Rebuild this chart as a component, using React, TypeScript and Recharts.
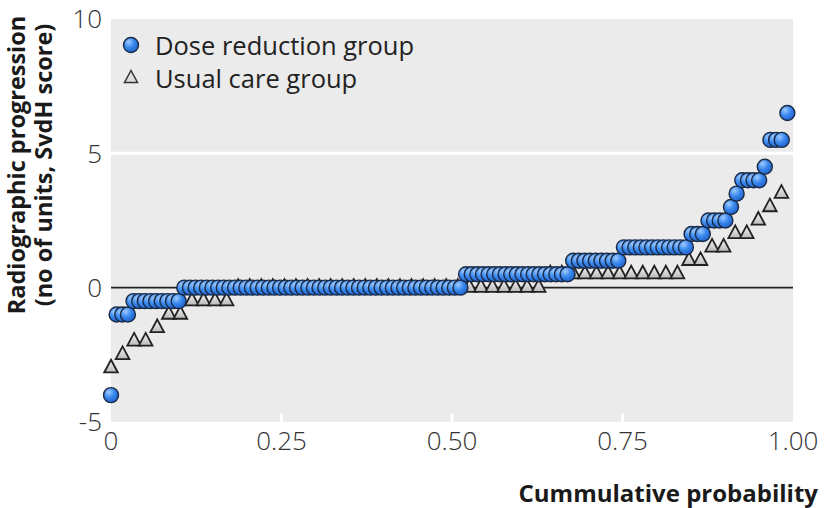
import React from 'react';
import {
  ScatterChart,
  Scatter,
  XAxis,
  YAxis,
  CartesianGrid,
  ReferenceLine,
} from 'recharts';

// SvdH score levels and how many patients sit on each step
const doseLevels = [-4, -1, -0.5, 0, 0.5, 1, 1.5, 2, 2.5, 3, 3.5, 4, 4.5, 5.5, 6.5];
const doseCounts = [1, 3, 9, 50, 19, 9, 12, 3, 4, 1, 1, 4, 1, 3, 1];
const usualLevels = [-3, -2.5, -2, -1.5, -1, -0.5, 0, 0.5, 1, 1.5, 2, 2.5, 3, 3.5];
const usualCounts = [1, 1, 2, 1, 2, 4, 27, 12, 2, 2, 2, 1, 1, 1];

const xTicks = [0, 0.25, 0.5, 0.75, 1];
const xTickLabels = ['0', '0.25', '0.50', '0.75', '1.00'];
const yTicks = [-5, 0, 5, 10];
const innerTicks = [0.25, 0.5, 0.75];

const FONT = "'Open Sans', 'Noto Sans', sans-serif";

interface Pt {
  p: number;
  y: number;
}

// empirical cumulative distribution from the step counts
function cumulative(levels: number[], counts: number[]): Pt[] {
  const n = counts.reduce((a, b) => a + b, 0);
  const out: Pt[] = [];
  let rank = 0;
  levels.forEach((v, k) => {
    for (let c = 0; c < counts[k]; c++) {
      out.push({ p: rank / n, y: v });
      rank++;
    }
  });
  return out;
}

const doseData = cumulative(doseLevels, doseCounts);
const usualData = cumulative(usualLevels, usualCounts);

const Ball = ({ cx, cy }: any) => {
  if (cx == null || cy == null) return null;
  return <circle cx={cx} cy={cy} r={7.5} fill="url(#blueBall)" stroke="#1a2a44" strokeWidth={1.4} />;
};

const Tri = ({ cx, cy }: any) => {
  if (cx == null || cy == null) return null;
  return (
    <polygon
      points={`${cx},${cy - 8.5} ${cx - 6.8},${cy + 4.2} ${cx + 6.8},${cy + 4.2}`}
      fill="url(#grayTri)"
      stroke="#222"
      strokeWidth={1.8}
    />
  );
};

// legend sits inside the panel, top-left
const LegendBox = () => (
  <svg
    width={340}
    height={80}
    style={{ position: 'absolute', left: 110, top: 19, display: 'block' }}
  >
    <defs>
      <radialGradient id="blueBall2" cx="35%" cy="30%" r="75%">
        <stop offset="0%" stopColor="#9fcaff" />
        <stop offset="50%" stopColor="#3888ee" />
        <stop offset="100%" stopColor="#1f5fc8" />
      </radialGradient>
    </defs>
    <circle cx={21} cy={26} r={7.5} fill="url(#blueBall2)" stroke="#1a2a44" strokeWidth={1.4} />
    <text x={45} y={26} dominantBaseline="central" fontFamily={FONT} fontSize={25.5} fill="#222">
      Dose reduction group
    </text>
    <polygon points="21,51.5 14.5,63.5 27.5,63.5" fill="#ddd" stroke="#333" strokeWidth={1.5} />
    <text x={45} y={59} dominantBaseline="central" fontFamily={FONT} fontSize={25.5} fill="#222">
      Usual care group
    </text>
  </svg>
);

const YTitle = ({ viewBox }: any) => {
  const cy = viewBox.y + 146;
  const common = {
    fontFamily: FONT,
    fontWeight: 700,
    fontSize: 23.5,
    fill: '#1a1a1a',
    textAnchor: 'middle' as const,
    dominantBaseline: 'central' as const,
  };
  return (
    <g>
      <text x={16} y={cy} transform={`rotate(-90 16 ${cy})`} {...common}>
        Radiographic progression
      </text>
      <text x={43} y={cy} transform={`rotate(-90 43 ${cy})`} {...common}>
        (no of units, SvdH score)
      </text>
    </g>
  );
};

const XTitle = ({ viewBox }: any) => (
  <text
    x={viewBox.x + viewBox.width + 25}
    y={viewBox.y + 70}
    textAnchor="end"
    dominantBaseline="central"
    fontFamily={FONT}
    fontWeight={700}
    fontSize={24}
    fill="#1a1a1a"
  >
    Cummulative probability
  </text>
);

export default function App() {
  return (
    <div style={{ position: 'absolute', left: 0, top: 0, width: 824, height: 508, background: '#fff' }}>
      <ScatterChart width={824} height={508} margin={{ top: 19, right: 31, bottom: 0, left: 0 }}>
        <defs>
          <radialGradient id="blueBall" cx="35%" cy="30%" r="75%">
            <stop offset="0%" stopColor="#9fcaff" />
            <stop offset="50%" stopColor="#3888ee" />
            <stop offset="100%" stopColor="#1f5fc8" />
          </radialGradient>
          <linearGradient id="grayTri" x1="0" y1="0" x2="0" y2="1">
            <stop offset="0%" stopColor="#f6f6f6" />
            <stop offset="100%" stopColor="#b9b9b9" />
          </linearGradient>
        </defs>
        <CartesianGrid fill="#ebebeb" horizontal={false} vertical={false} />
        <XAxis
          dataKey="p"
          type="number"
          domain={[0, 1]}
          ticks={xTicks}
          interval={0}
          tickFormatter={(v: number) => xTickLabels[xTicks.indexOf(v)] ?? String(v)}
          axisLine={false}
          tickLine={false}
          tickSize={0}
          tickMargin={10}
          height={86}
          tick={{ fontSize: 26, fill: '#333', fontWeight: 300, fontFamily: FONT }}
          label={<XTitle />}
        />
        <YAxis
          dataKey="y"
          type="number"
          domain={[-5, 10]}
          ticks={yTicks}
          interval={0}
          axisLine={false}
          tickLine={false}
          tickSize={0}
          tickMargin={9}
          width={111}
          tick={{ fontSize: 26, fill: '#333', fontWeight: 300, fontFamily: FONT }}
          label={<YTitle />}
        />
        <ReferenceLine y={5} stroke="#ffffff" strokeWidth={3} />
        {innerTicks.map((t) => (
          <ReferenceLine
            key={t}
            segment={[
              { x: t, y: -5 },
              { x: t, y: -4.7 },
            ]}
            stroke="#ffffff"
            strokeWidth={3}
          />
        ))}
        <ReferenceLine y={0} stroke="#222" strokeWidth={1.6} />
        <Scatter data={usualData} dataKey="y" shape={<Tri />} isAnimationActive={false} />
        <Scatter data={doseData} dataKey="y" shape={<Ball />} isAnimationActive={false} />
      </ScatterChart>
      <LegendBox />
    </div>
  );
}
